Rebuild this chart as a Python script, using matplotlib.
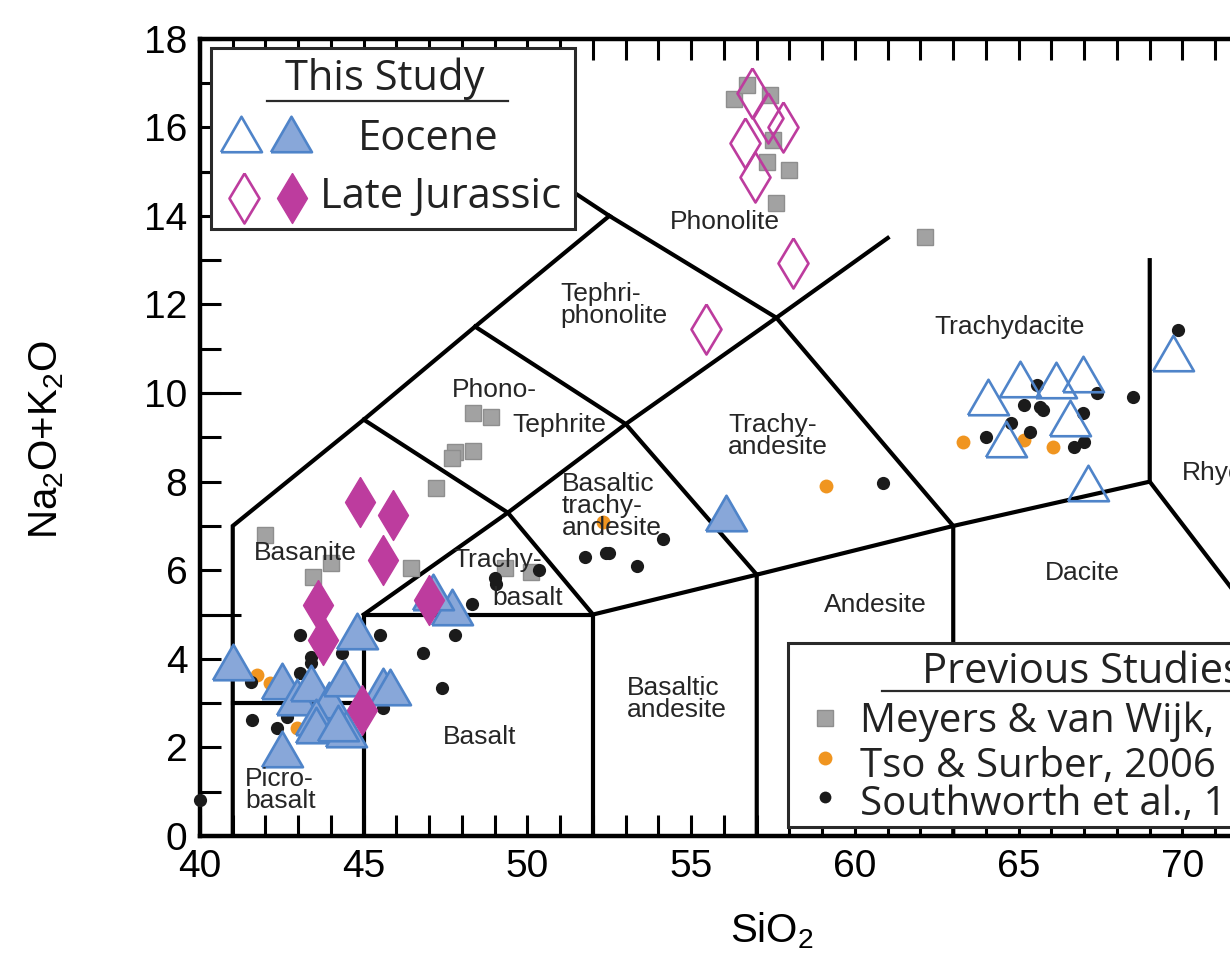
import matplotlib
matplotlib.use('Agg')
import matplotlib.pyplot as plt
from matplotlib.patches import Rectangle

plt.rcParams['font.family'] = ['Liberation Sans', 'DejaVu Sans']
plt.rcParams['mathtext.default'] = 'regular'

# TAS field boundaries (SiO2, Na2O+K2O), Le Bas et al. 1986
tas_lines = [
    [(41, 0), (41, 7), (45, 9.4), (48.4, 11.5), (52.5, 14), (48.4, 16)],
    [(41, 3), (45, 3)],
    [(45, 0), (45, 5), (52, 5), (52, 0)],
    [(45, 9.4), (49.4, 7.3), (52, 5), (57, 5.9), (57, 0)],
    [(45, 5), (49.4, 7.3), (53, 9.3), (57.6, 11.7), (61, 13.5)],
    [(48.4, 11.5), (53, 9.3), (57, 5.9)],
    [(52.5, 14), (57.6, 11.7), (63, 7), (63, 0)],
    [(57, 5.9), (63, 7), (69, 8), (69, 13)],
    [(69, 8), (77.3, 0)],
]

# this study
eocene_open_sio2 = [64.05, 65.05, 66.15, 66.95, 66.55, 64.6, 67.1, 69.7]
eocene_open_alk = [9.91, 10.32, 10.29, 10.43, 9.44, 8.96, 7.97, 10.9]

eocene_fill_sio2 = [41.0, 42.5, 42.95, 43.4, 43.95, 43.55, 43.55, 44.4, 44.45,
                    44.2, 44.8, 45.6, 45.8, 42.5, 47.7, 47.1, 56.05]
eocene_fill_alk = [3.93, 3.5, 3.14, 3.45, 3.07, 2.69, 2.5, 3.57, 2.42,
                   2.55, 4.63, 3.38, 3.36, 1.96, 5.17, 5.5, 7.3]

jurassic_open_sio2 = [56.85, 57.35, 57.8, 56.65, 56.95, 58.1, 55.45]
jurassic_open_alk = [16.77, 16.21, 16.0, 15.64, 14.88, 12.93, 11.45]

jurassic_fill_sio2 = [44.9, 45.9, 45.6, 47.0, 43.6, 43.75, 44.95]
jurassic_fill_alk = [7.54, 7.25, 6.23, 5.33, 5.21, 4.42, 2.84]

# previous studies
meyers_sio2 = [56.3, 56.7, 57.4, 57.5, 57.3, 58.0, 57.6, 62.15, 48.35, 48.9,
               47.8, 47.7, 48.35, 47.2, 46.45, 42.0, 44.0, 43.45, 49.3, 50.1]
meyers_alk = [16.64, 16.95, 16.73, 15.71, 15.21, 15.03, 14.29, 13.52, 9.55, 9.46,
              8.67, 8.53, 8.69, 7.86, 6.05, 6.79, 6.16, 5.85, 6.05, 5.95]

tso_sio2 = [41.75, 42.15, 42.95, 52.3, 59.1, 63.3, 65.15, 66.05]
tso_alk = [3.63, 3.45, 2.44, 7.09, 7.9, 8.89, 8.94, 8.78]

south_sio2 = [40.0, 41.55, 41.6, 42.35, 42.65, 43.05, 43.05, 43.4, 43.4, 44.35,
              45.5, 45.6, 46.8, 47.4, 47.8, 48.3, 49.0, 49.05, 50.35, 51.75,
              52.4, 52.5, 53.35, 54.15, 60.85, 64.0, 64.75, 65.15, 65.35, 65.55,
              65.65, 65.75, 66.7, 66.95, 67.0, 67.4, 68.5, 69.85]
south_alk = [0.81, 3.48, 2.62, 2.44, 2.69, 4.54, 3.68, 4.04, 3.9, 4.13,
             4.54, 2.89, 4.13, 3.34, 4.54, 5.24, 5.82, 5.69, 6.0, 6.3,
             6.39, 6.39, 6.09, 6.7, 7.97, 9.01, 9.32, 9.73, 9.12, 10.18,
             9.68, 9.62, 8.78, 9.55, 8.89, 10.0, 9.91, 11.42]

# field names: (text, SiO2, alkali, horizontal alignment)
field_labels = [
    ('Phonolite', 56.03, 13.86, 'center'),
    ('Tephri-\nphonolite', 51.0, 11.98, 'left'),
    ('Phono-', 47.69, 10.07, 'left'),
    ('Tephrite', 49.53, 9.28, 'left'),
    ('Basaltic\ntrachy-\nandesite', 51.05, 7.45, 'left'),
    ('Trachy-\nandesite', 56.12, 9.03, 'left'),
    ('Trachydacite', 64.73, 11.49, 'center'),
    ('Basanite', 43.21, 6.39, 'center'),
    ('Trachy-', 47.73, 6.23, 'left'),
    ('basalt', 48.92, 5.37, 'left'),
    ('Basalt', 48.55, 2.23, 'center'),
    ('Picro-\nbasalt', 41.37, 1.04, 'left'),
    ('Basaltic\nandesite', 53.04, 3.09, 'left'),
    ('Andesite', 60.61, 5.21, 'center'),
    ('Dacite', 66.93, 5.94, 'center'),
    ('Rhyolite', 69.98, 8.19, 'left'),
]

blue_edge = '#4f84c9'
blue_face = '#88a7d9'
magenta = '#bd3c9e'
gray_face = '#a2a2a2'
gray_edge = '#8e8e8e'
orange = '#f09520'
black = '#1b1b1b'

# closed outlines so the open symbols get all their edges
tri = [(-1, -0.866), (1, -0.866), (0, 0.866), (-1, -0.866)]
dia = [(0, 1), (0.6, 0), (0, -1), (-0.6, 0), (0, 1)]

width = 1230 / 100
height = 957 / 100
fig = plt.figure(figsize=(width, height), dpi=100)
ax = fig.add_axes([0.1626, 0.1264, 0.9319, 0.8332])
ax.set_xlim(40, 75)
ax.set_ylim(0, 18)

for side in ['left', 'top', 'bottom']:
    ax.spines[side].set_linewidth(3.2)
ax.spines['right'].set_visible(False)

ax.set_xticks(range(40, 76, 5))
ax.set_xticks(range(40, 76), minor=True)
ax.set_yticks(range(0, 19, 2))
ax.set_yticks(range(0, 19), minor=True)
ax.tick_params(axis='x', which='both', direction='in', top=True, bottom=True,
               length=15, width=2.2, labelsize=28, pad=9)
ax.tick_params(axis='y', which='both', direction='in', left=True, right=False,
               length=15, width=2.2, labelsize=28, pad=9)

# longer ticks every 5 units on the alkali axis
for v in [5, 10, 15]:
    ax.plot([0, 0.036], [v, v], transform=ax.get_yaxis_transform(), color='k',
            lw=2.2, solid_capstyle='butt', clip_on=False, zorder=2)

for seg in tas_lines:
    xs = [p[0] for p in seg]
    ys = [p[1] for p in seg]
    ax.plot(xs, ys, color='k', lw=3.0, solid_joinstyle='miter', zorder=2)

for text, x, y, ha in field_labels:
    ax.text(x, y, text, ha=ha, va='center', fontsize=19, color='#262626',
            linespacing=0.9, zorder=8)

ax.plot(meyers_sio2, meyers_alk, ls='none', marker='s', ms=11,
        mfc=gray_face, mec=gray_edge, mew=1, zorder=3)
ax.plot(tso_sio2, tso_alk, ls='none', marker='o', ms=10, mfc=orange,
        mec='none', zorder=3)
ax.plot(south_sio2, south_alk, ls='none', marker='o', ms=9.5, mfc=black,
        mec='none', zorder=3, clip_on=False)
ax.plot(eocene_open_sio2, eocene_open_alk, ls='none', marker=tri, ms=29.5,
        mfc='none', mec=blue_edge, mew=1.9, zorder=4)
ax.plot(eocene_fill_sio2, eocene_fill_alk, ls='none', marker=tri, ms=29.5,
        mfc=blue_face, mec=blue_edge, mew=1.9, zorder=4)
ax.plot(jurassic_open_sio2, jurassic_open_alk, ls='none', marker=dia, ms=36,
        mfc='none', mec=magenta, mew=1.9, zorder=5)
ax.plot(jurassic_fill_sio2, jurassic_fill_alk, ls='none', marker=dia, ms=36,
        mfc=magenta, mec=magenta, mew=1, zorder=5)

# legend for this study (upper left)
leg_font = ['Open Sans', 'DejaVu Sans']
tr = ax.transAxes
ax.add_patch(Rectangle((0.0100, 0.7612), 0.3171, 0.2270, transform=tr,
                       facecolor='white', edgecolor='#2a2a2a', lw=2.2, zorder=10))
ax.text(0.1614, 0.9355, 'This Study', transform=tr, ha='center', va='baseline',
        fontsize=30, family=leg_font, color='#222222', zorder=11)
ax.plot([0.0585, 0.2687], [0.9218, 0.9218], transform=tr, color='#2a2a2a',
        lw=1.6, zorder=11)
ax.plot([0.0362], [0.8810], transform=tr, marker=tri, ms=29.5, mfc='none',
        mec=blue_edge, mew=1.9, zorder=11)
ax.plot([0.0798], [0.8810], transform=tr, marker=tri, ms=29.5, mfc=blue_face,
        mec=blue_edge, mew=1.9, zorder=11)
ax.text(0.1378, 0.8603, 'Eocene', transform=tr, ha='left', va='baseline',
        fontsize=30, family=leg_font, color='#222222', zorder=11)
ax.plot([0.0384], [0.8001], transform=tr, marker=dia, ms=36, mfc='none',
        mec=magenta, mew=1.9, zorder=11)
ax.plot([0.0799], [0.8001], transform=tr, marker=dia, ms=36, mfc=magenta,
        mec=magenta, mew=1, zorder=11)
ax.text(0.1043, 0.7876, 'Late Jurassic', transform=tr, ha='left', va='baseline',
        fontsize=30, family=leg_font, color='#222222', zorder=11)

# legend for previous studies (lower right)
ax.add_patch(Rectangle((0.5130, 0.0113), 0.60, 0.2307, transform=tr,
                       facecolor='white', edgecolor='#2a2a2a', lw=2.2, zorder=10,
                       clip_on=False))
ax.text(0.6299, 0.1919, 'Previous Studies', transform=tr, ha='left',
        va='baseline', fontsize=30, family=leg_font, color='#222222', zorder=11)
ax.plot([0.5950, 1.0], [0.1818, 0.1818], transform=tr, color='#2a2a2a',
        lw=1.6, zorder=11)
ax.plot([0.5452], [0.1480], transform=tr, marker='s', ms=11, mfc=gray_face,
        mec=gray_edge, mew=1, zorder=11)
ax.plot([0.5452], [0.0978], transform=tr, marker='o', ms=10, mfc=orange,
        mec='none', zorder=11)
ax.plot([0.5452], [0.0489], transform=tr, marker='o', ms=8.5, mfc=black,
        mec='none', zorder=11)
ax.text(0.5758, 0.1304, 'Meyers & van Wijk,', transform=tr, ha='left',
        va='baseline', fontsize=29, family=leg_font, color='#222222', zorder=11)
ax.text(0.5758, 0.0740, 'Tso & Surber, 2006', transform=tr, ha='left',
        va='baseline', fontsize=29, family=leg_font, color='#222222', zorder=11)
ax.text(0.5758, 0.0263, 'Southworth et al., 1', transform=tr, ha='left',
        va='baseline', fontsize=29, family=leg_font, color='#222222', zorder=11)

fig.text(47 / 1230, 1 - 440 / 957, r'Na$_2$O+K$_2$O', rotation=90,
         ha='center', va='center', fontsize=29)
fig.text(772 / 1230, 1 - 942 / 957, r'SiO$_2$', ha='center', va='baseline',
         fontsize=29)

fig.savefig('out.png', dpi=100)
